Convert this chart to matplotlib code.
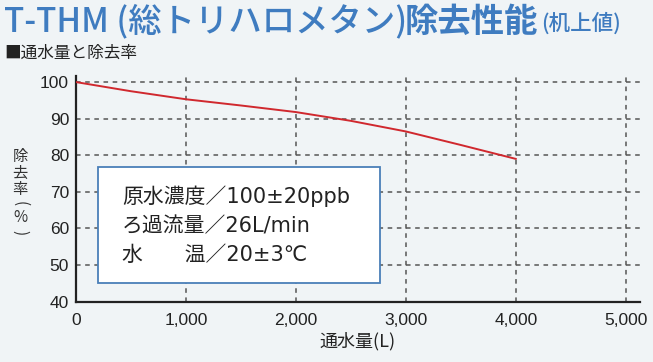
import matplotlib.pyplot as plt
from matplotlib.patches import Rectangle

plt.rcParams['font.family'] = ['Noto Sans CJK JP', 'DejaVu Sans']

# data
flow = [0, 500, 1000, 1500, 2000, 2500, 3000, 3500, 4000]
removal = [100, 97.5, 95.3, 93.6, 91.8, 89.4, 86.5, 82.8, 79.0]
xticks = [0, 1000, 2000, 3000, 4000, 5000]
xtick_labels = ['0', '1,000', '2,000', '3,000', '4,000', '5,000']
yticks = [40, 50, 60, 70, 80, 90, 100]
conditions = ['原水濃度／100±20ppb', 'ろ過流量／26L/min', '水　　温／20±3℃']

bg = '#f0f4f6'
blue = '#3f7cc0'
W, H = 653, 362

fig = plt.figure(figsize=(W / 100, H / 100), dpi=100, facecolor=bg)
ax = fig.add_axes([76 / W, 1 - 301.5 / H, 564 / W, 226 / H])
ax.set_facecolor(bg)

ax.set_xlim(0, 5130)
ax.set_ylim(40, 101.8)

# grid
for y in yticks[1:]:
    ax.axhline(y, color='#555555', lw=1.1, ls=(0, (3, 3)), zorder=1)
for x in xticks[1:]:
    ax.axvline(x, color='#555555', lw=1.1, ls=(0, (3, 3)), zorder=1)

ax.plot(flow, removal, color='#d0282e', lw=1.4, zorder=3)

# conditions box
ax.add_patch(Rectangle((200, 45), 2565, 31.7, facecolor='white',
                       edgecolor='#4a7fb8', lw=1.3, zorder=4))
for i, line in enumerate(conditions):
    ax.text(418, 68.8 - i * 8.1, line, fontsize=15, va='center', ha='left',
            color='#222222', zorder=5, family=['DejaVu Sans', 'Noto Sans CJK JP'])

ax.set_xticks(xticks)
ax.set_xticklabels(xtick_labels)
ax.set_yticks(yticks)
ax.tick_params(length=0, labelsize=12.5, colors='#222222')
ax.tick_params(axis='y', pad=5)
ax.tick_params(axis='x', pad=8)
for lab in ax.get_xticklabels() + ax.get_yticklabels():
    lab.set_family('Liberation Sans')
for s in ['top', 'right']:
    ax.spines[s].set_visible(False)
for s in ['left', 'bottom']:
    ax.spines[s].set_color('#222222')
    ax.spines[s].set_linewidth(1.6)

ax.set_xlabel('通水量(L)', fontsize=13, color='#222222', labelpad=3)

# vertical y label
ylab = ['除', '去', '率', '(', '%', ')']
ypix = [156, 173, 189, 204, 218, 233]
for ch, py in zip(ylab, ypix):
    rot = -90 if ch in '()' else 0
    fig.text(20 / W, 1 - py / H, ch, fontsize=11, ha='center', va='center',
             color='#333333', rotation=rot)

# title in three pieces
fig.text(4 / W, 1 - 22 / H, 'T-THM (総トリハロメタン)', fontsize=24,
         color=blue, fontweight='medium', va='center')
fig.text(405 / W, 1 - 22 / H, '除去性能', fontsize=24, color=blue,
         fontweight='bold', va='center')
fig.text(541 / W, 1 - 24 / H, '(机上値)', fontsize=15.5, color=blue,
         fontweight='medium', va='center')
fig.text(4 / W, 1 - 53 / H, '■通水量と除去率', fontsize=12, color='#222222',
         va='center')

fig.savefig('out.png', dpi=100, facecolor=bg)
